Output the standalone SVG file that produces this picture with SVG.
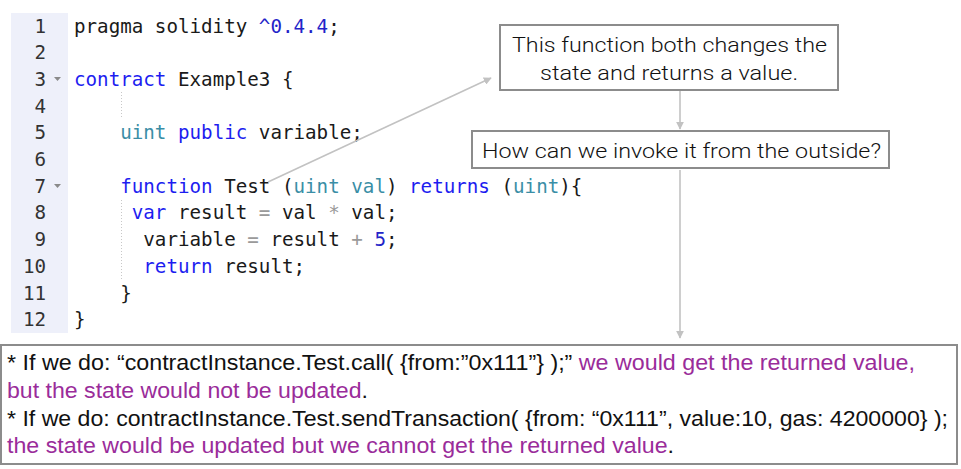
<svg xmlns="http://www.w3.org/2000/svg" width="961" height="469" viewBox="0 0 961 469">
<style>
.code{font-family:"DejaVu Sans Mono","Liberation Mono",monospace;font-size:19.2px;fill:#1a1a1a;white-space:pre}
.ln{font-family:"DejaVu Sans Mono","Liberation Mono",monospace;font-size:19.2px;fill:#333;text-anchor:end}
.kw{fill:#1d1df0}
.ty{fill:#3a8ea6}
.num{fill:#2323c8}
.op{fill:#9a9a9a}
.fold{fill:#8a8a8a}
.guide{stroke:#c8c8c8;stroke-width:1;stroke-dasharray:1,2}
.box{fill:#fff;stroke:#8c8c8c;stroke-width:2}
.note{font-family:"Roboto","Liberation Sans",sans-serif;font-weight:300;font-size:21px;fill:#111}
.txt{font-family:"Liberation Sans","Arial",sans-serif;font-size:22px;fill:#111;white-space:pre}
.pu{fill:#9a2c9a}
.conn{stroke:#c2c2c2;stroke-width:1.6;fill:none}
</style>
<defs>
<marker id="ah" viewBox="0 0 10 10" refX="9" refY="5" markerWidth="8" markerHeight="8" markerUnits="userSpaceOnUse" orient="auto">
<path d="M0,0 L10,5 L0,10 z" fill="#c2c2c2"/>
</marker>
</defs>
<rect width="961" height="469" fill="#fff"/>
<g id="code">
<rect x="11" y="13" width="57" height="320" fill="#eef0fa"/>
<text class="ln" x="46" y="32.5">1</text>
<text class="ln" x="46" y="59.2">2</text>
<text class="ln" x="46" y="85.9">3</text>
<text class="ln" x="46" y="112.6">4</text>
<text class="ln" x="46" y="139.3">5</text>
<text class="ln" x="46" y="166">6</text>
<text class="ln" x="46" y="192.7">7</text>
<text class="ln" x="46" y="219.4">8</text>
<text class="ln" x="46" y="246.1">9</text>
<text class="ln" x="46" y="272.8">10</text>
<text class="ln" x="46" y="299.5">11</text>
<text class="ln" x="46" y="326.2">12</text>
<path class="fold" d="M54,77 L61,77 L57.5,81 z"/>
<path class="fold" d="M54,184 L61,184 L57.5,188 z"/>
<line class="guide" x1="121.5" y1="92" x2="121.5" y2="118"/>
<line class="guide" x1="121.5" y1="200" x2="121.5" y2="280"/>
<text class="code" x="74" y="32.5">pragma solidity <tspan class="num">^0.4.4</tspan>;</text>
<text class="code" x="74" y="85.9"><tspan class="kw">contract</tspan> Example3 {</text>
<text class="code" x="74" y="139.3">    <tspan class="ty">uint</tspan> <tspan class="kw">public</tspan> variable;</text>
<text class="code" x="74" y="192.7">    <tspan class="kw">function</tspan> Test (<tspan class="ty">uint val</tspan>) <tspan class="kw">returns</tspan> (<tspan class="ty">uint</tspan>){</text>
<text class="code" x="74" y="219.4">     <tspan class="kw">var</tspan> result <tspan class="op">=</tspan> val <tspan class="op">*</tspan> val;</text>
<text class="code" x="74" y="246.1">      variable <tspan class="op">=</tspan> result <tspan class="op">+</tspan> <tspan class="num">5</tspan>;</text>
<text class="code" x="74" y="272.8">      <tspan class="kw">return</tspan> result;</text>
<text class="code" x="74" y="299.5">    }</text>
<text class="code" x="74" y="326.2">}</text>
</g>
<g id="connectors">
<line class="conn" x1="268" y1="182" x2="491" y2="78" marker-end="url(#ah)"/>
<line class="conn" x1="680" y1="91" x2="680" y2="129" marker-end="url(#ah)"/>
<line class="conn" x1="680" y1="170" x2="680" y2="338" marker-end="url(#ah)"/>
</g>
<g id="note1">
<rect class="box" x="500" y="25" width="338" height="65"/>
<text class="note" x="512" y="52" textLength="315" lengthAdjust="spacingAndGlyphs">This function both changes the</text>
<text class="note" x="540" y="80" textLength="258" lengthAdjust="spacingAndGlyphs">state and returns a value.</text>
</g>
<g id="note2">
<rect class="box" x="472" y="131" width="417" height="37"/>
<text class="note" x="482" y="158" textLength="399" lengthAdjust="spacingAndGlyphs">How can we invoke it from the outside?</text>
</g>
<g id="explanation">
<rect class="box" x="1" y="345" width="956" height="119"/>
<text class="txt" x="7" y="370" textLength="908" lengthAdjust="spacingAndGlyphs">* If we do: “contractInstance.Test.call( {from:”0x111”} );”<tspan class="pu"> we would get the returned value,</tspan></text>
<text class="txt" x="7" y="398" textLength="361" lengthAdjust="spacingAndGlyphs"><tspan class="pu">but the state would not be updated</tspan>.</text>
<text class="txt" x="7" y="426" textLength="941" lengthAdjust="spacingAndGlyphs">* If we do: contractInstance.Test.sendTransaction( {from: “0x111”, value:10, gas: 4200000} );</text>
<text class="txt" x="7" y="453" textLength="667" lengthAdjust="spacingAndGlyphs"><tspan class="pu">the state would be updated but we cannot get the returned value</tspan>.</text>
</g>
</svg>
